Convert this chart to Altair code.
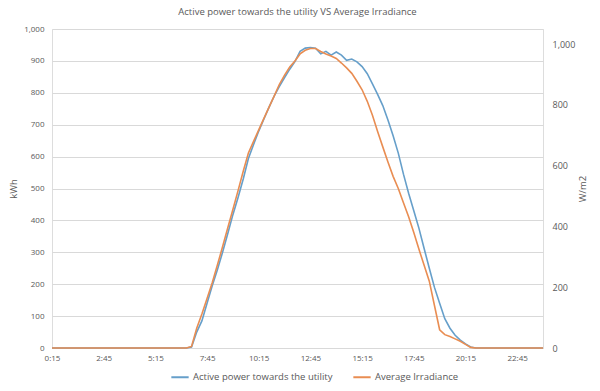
import altair as alt
import pandas as pd

# 15-minute interval labels, 0:15 ... 24:00
times = [f"{(15 * (i + 1)) // 60}:{(15 * (i + 1)) % 60:02d}" for i in range(96)]
tick_labels = ["0:15", "2:45", "5:15", "7:45", "10:15", "12:45", "15:15", "17:45", "20:15", "22:45"]

active_power = [0] * 27 + [
    3, 50, 85, 140, 195, 245, 300, 358, 418, 472,
    530, 594, 638, 680, 718, 755, 790, 820, 848, 874,
    898, 930, 940, 942, 940, 922, 930, 918, 928, 918,
    902, 906, 897, 882, 860, 828, 795, 760, 715, 665,
    611, 545, 485, 430, 375, 312, 250, 190, 140, 92,
    62, 40, 25, 13, 3,
] + [0] * 14

irradiance = [0] * 27 + [
    5, 65, 112, 163, 215, 273, 333, 395, 456, 518,
    582, 642, 680, 718, 756, 793, 830, 868, 898, 925,
    945, 968, 980, 986, 986, 976, 968, 961, 953, 938,
    922, 904, 878, 850, 812, 766, 713, 662, 612, 565,
    525, 478, 432, 380, 325, 272, 220, 140, 60, 44,
    38, 30, 22, 12, 2,
] + [0] * 14

s1 = "Active power towards the utility"
s2 = "Average Irradiance"

df = pd.DataFrame({
    "time": times * 2,
    "order": list(range(96)) * 2,
    "series": [s1] * 96 + [s2] * 96,
    "value": active_power + irradiance,
})

FONT = "Open Sans"
GRAY = "#595959"

x_enc = alt.X(
    "time:N",
    sort=times,
    scale=alt.Scale(type="point", padding=0),
    axis=alt.Axis(
        values=tick_labels, title=None, labelAngle=0, ticks=False,
        domainColor="#d9d9d9", labelPadding=6, labelColor=GRAY,
        labelFontSize=8, labelFont=FONT, grid=False,
    ),
)

color_enc = alt.Color(
    "series:N",
    scale=alt.Scale(domain=[s1, s2], range=["#669fca", "#e98d52"]),
    legend=alt.Legend(
        title=None, orient="none", legendX=118, legendY=338, direction="horizontal",
        symbolType="stroke", symbolStrokeWidth=2, symbolSize=300,
        labelFont=FONT, labelFontSize=9.5, labelColor=GRAY, columnPadding=16,
        symbolOffset=0, labelOffset=3,
    ),
)

left = alt.Chart(df).transform_filter(alt.datum.series == s1).mark_line(strokeWidth=1.6).encode(
    x=x_enc,
    y=alt.Y(
        "value:Q",
        scale=alt.Scale(domain=[0, 1000], nice=False),
        axis=alt.Axis(
            values=list(range(0, 1001, 100)), format=",.0f", title="kWh", orient="left",
            ticks=False, domain=False, gridColor="#d9d9d9", labelPadding=8,
            labelColor=GRAY, labelFontSize=8, labelFont=FONT,
            titleColor=GRAY, titleFont=FONT, titleFontSize=9.5, titleFontWeight="normal",
            titlePadding=5,
        ),
    ),
    color=color_enc,
)

right = alt.Chart(df).transform_filter(alt.datum.series == s2).mark_line(strokeWidth=1.6).encode(
    x=x_enc,
    y=alt.Y(
        "value:Q",
        scale=alt.Scale(domain=[0, 1050], nice=False),
        axis=alt.Axis(
            values=list(range(0, 1001, 200)), format=",.0f", title="W/m2", orient="right",
            ticks=False, domain=False, grid=False, labelPadding=9,
            labelColor=GRAY, labelFontSize=9, labelFont=FONT,
            titleColor=GRAY, titleFont=FONT, titleFontSize=9.5, titleFontWeight="normal",
            titlePadding=13, titleAngle=270,
        ),
    ),
    color=color_enc,
)

chart = alt.layer(left, right).resolve_scale(y="independent").properties(
    width=491,
    height=319,
    padding={"left": 52, "top": 29, "right": 57, "bottom": 43},
    autosize="none",
    title=alt.TitleParams(
        "Active power towards the utility VS Average Irradiance",
        font=FONT, fontSize=9.5, fontWeight="normal", color=GRAY, offset=9,
        anchor="middle",
    ),
).configure_view(stroke=None).configure(background="white")

chart.save("out.html", embed_options={"renderer": "svg", "actions": False})
